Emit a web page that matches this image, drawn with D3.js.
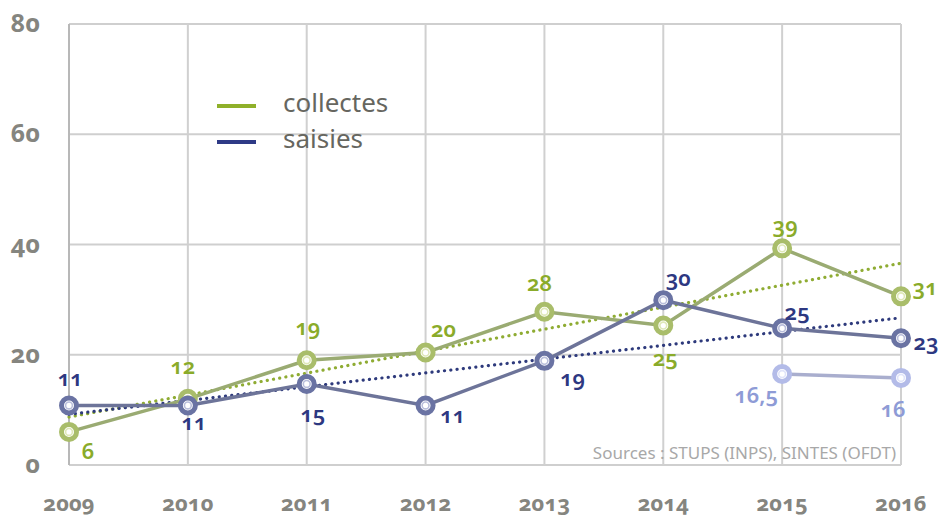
<!DOCTYPE html>
<html>
<head>
<meta charset="utf-8">
<script src="https://cdn.jsdelivr.net/npm/d3@7"></script>
<style>
  body { margin:0; background:#fff; overflow:hidden; }
  svg text { font-family: "Noto Sans", "Open Sans", sans-serif; font-feature-settings: "onum" 1; }
  .tick-y, .tick-x { fill:#85857f; font-weight:700; }
  .lbl { font-weight:600; font-size:22px; }
</style>
</head>
<body>
<svg width="941" height="517"></svg>
<script>
const years = [2009, 2010, 2011, 2012, 2013, 2014, 2015, 2016];
const collectes = [6, 12, 19, 20.4, 27.8, 25.3, 39.3, 30.6];
const saisies = [10.8, 10.8, 14.7, 10.8, 18.9, 29.9, 24.8, 23];
const sintesYears = [2015, 2016];
const sintes = [16.5, 15.8];
const collectesLabels = ['6', '12', '19', '20', '28', '25', '39', '31'];
const saisiesLabels = ['11', '11', '15', '11', '19', '30', '25', '23'];
const sintesLabels = ['16,5', '16'];
// trend lines (start 2009, end 2016)
const collectesTrend = [8.7, 36.6];
const saisiesTrend = [9.2, 26.7];
const yTicks = [0, 20, 40, 60, 80];

// label offsets (dx, dy) relative to the point
const collectesOff = [[19,20],[-5,-32],[1,-32],[18,-23],[-5,-28],[2,33],[3,-22],[24,-8]];
const saisiesOff = [[1,-26],[6,18],[6,31],[27,11],[28,18],[15,-21],[15,-15],[25,5]];
const sintesOff = [[-26,22],[-8,32]];

const svg = d3.select('svg');
const margin = {left:69, right:40, top:24, bottom:52};

const x = d3.scalePoint().domain(years).range([margin.left, 901]);
const y = d3.scaleLinear().domain([0, 80]).range([465, 24]);

const grid = svg.append('g');
grid.selectAll('.hl').data(yTicks).enter().append('line')
  .attr('x1', margin.left).attr('x2', 901)
  .attr('y1', d => y(d)).attr('y2', d => y(d))
  .attr('stroke', '#cfcfcf').attr('stroke-width', 2);
grid.selectAll('.vl').data(years).enter().append('line')
  .attr('x1', d => x(d)).attr('x2', d => x(d))
  .attr('y1', y(80)).attr('y2', y(0))
  .attr('stroke', (d, i) => i === 0 ? '#b8b8b8' : '#d0d0d0').attr('stroke-width', 2);

svg.selectAll('.tick-y').data(yTicks).enter().append('text')
  .attr('class', 'tick-y')
  .attr('x', 40).attr('y', d => y(d) + 8)
  .attr('text-anchor', 'end').attr('font-size', 25)
  .text(d => d);

svg.selectAll('.tick-x').data(years).enter().append('text')
  .attr('class', 'tick-x')
  .attr('x', d => x(d)).attr('y', 511)
  .attr('text-anchor', 'middle').attr('font-size', 22)
  .text(d => d);

// trends
const trend = (vals, color) => svg.append('line')
  .attr('x1', x(years[0])).attr('y1', y(vals[0]))
  .attr('x2', x(years[years.length - 1])).attr('y2', y(vals[1]))
  .attr('stroke', color).attr('stroke-width', 3.2)
  .attr('stroke-dasharray', '0.1 6.2').attr('stroke-linecap', 'round');
trend(collectesTrend, '#8fac33');
trend(saisiesTrend, '#2e3a7c');

const line = d3.line().x(d => x(d[0])).y(d => y(d[1]));

function series(xs, vals, lineCol, ringCol, glow) {
  const pts = xs.map((d, i) => [d, vals[i]]);
  svg.append('path').datum(pts).attr('d', line)
    .attr('fill', 'none').attr('stroke', lineCol).attr('stroke-width', 3.5);
  const g = svg.append('g');
  g.selectAll('circle.o').data(pts).enter().append('circle')
    .attr('cx', d => x(d[0])).attr('cy', d => y(d[1])).attr('r', 7.5)
    .attr('fill', '#fff').attr('stroke', ringCol).attr('stroke-width', 5);
  g.selectAll('circle.i').data(pts).enter().append('circle')
    .attr('cx', d => x(d[0])).attr('cy', d => y(d[1])).attr('r', 3.4)
    .attr('fill', 'none').attr('stroke', glow).attr('stroke-width', 1.6);
}
series(years, collectes, '#9aab72', '#a9bd6a', '#dfe8b8');
series(years, saisies, '#6d7499', '#6a73a3', '#b9bedb');
series(sintesYears, sintes, '#a9aece', '#b3bbe8', '#e0e4fa');

function labels(xs, vals, txt, off, color) {
  svg.append('g').selectAll('text').data(xs).enter().append('text')
    .attr('class', 'lbl')
    .attr('x', (d, i) => x(d) + off[i][0])
    .attr('y', (d, i) => y(vals[i]) + off[i][1] + 7)
    .attr('text-anchor', 'middle').attr('fill', color)
    .text((d, i) => txt[i]);
}
labels(years, collectes, collectesLabels, collectesOff, '#8aab2a');
labels(years, saisies, saisiesLabels, saisiesOff, '#2d3881');
labels(sintesYears, sintes, sintesLabels, sintesOff, '#8e9bd6');

// legend
const legend = [['collectes', '#8fb02a'], ['saisies', '#2e3a86']];
const lg = svg.append('g');
lg.selectAll('line').data(legend).enter().append('line')
  .attr('x1', 217).attr('x2', 256)
  .attr('y1', (d, i) => 106 + i * 36).attr('y2', (d, i) => 106 + i * 36)
  .attr('stroke', d => d[1]).attr('stroke-width', 4);
lg.selectAll('text').data(legend).enter().append('text')
  .attr('x', 283).attr('y', (d, i) => 112 + i * 36)
  .attr('font-size', 26).attr('fill', '#66665f')
  .style('font-feature-settings', 'normal')
  .text(d => d[0]);

svg.append('text')
  .attr('x', 896).attr('y', 459)
  .attr('text-anchor', 'end').attr('font-size', 17).attr('fill', '#a8a8a8')
  .style('font-feature-settings', 'normal')
  .text('Sources : STUPS (INPS), SINTES (OFDT)');
</script>
</body>
</html>
